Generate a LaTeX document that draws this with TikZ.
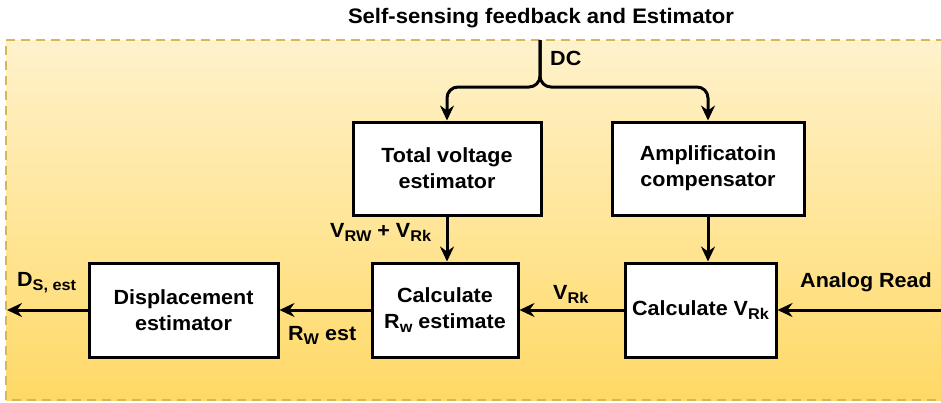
\documentclass[tikz,border=0pt]{standalone}
\usepackage{fontspec}
\setmainfont{Liberation Sans}[FakeStretch=1.05]
\usetikzlibrary{arrows.meta,positioning,calc}

\definecolor{frameline}{HTML}{D6B656}
\definecolor{fadetop}{HTML}{FFF2CC}
\definecolor{fadebottom}{HTML}{FFD966}

% subscript in the diagram font
\newcommand{\lowtxt}[1]{\raisebox{-4.5pt}{\fontsize{15.5}{15.5}\selectfont #1}}

\tikzset{
  blk/.style={draw=black, line width=3pt, fill=white, align=center,
    font=\fontsize{20.5}{26}\selectfont\bfseries, inner sep=0pt},
  lbl/.style={font=\fontsize{20.5}{26}\selectfont\bfseries, inner sep=0pt},
  arr/.style={draw=black, line width=3pt,
    -{Stealth[length=15pt,width=14pt,inset=5pt]}},
}

\begin{document}
\begin{tikzpicture}[x=1pt,y=-1pt]
\useasboundingbox (0,0) rectangle (941,402);
\clip (0,0) rectangle (941,402);

% title
\node[lbl, font=\fontsize{21}{24}\selectfont\bfseries, anchor=base] (title) at (541,23) {Self-sensing feedback and Estimator};

% dashed container with vertical fade
\shade[top color=fadetop, bottom color=fadebottom] (6,40) rectangle (960,400);
\draw[frameline, line width=2.8pt, dash pattern=on 9pt off 6pt] (960,40) -- (6,40) -- (6,400) -- (960,400);

% blocks
\node[blk, minimum width=188pt, minimum height=93pt] (tve) at (447,168.5) {Total voltage\\estimator};
\node[blk, minimum width=192pt, minimum height=93pt] (amp) at (708,168.5) {Amplificatoin\\compensator};
\node[blk, minimum width=146pt, minimum height=94pt] (crw) at (445,310) {Calculate\\R\lowtxt{w} estimate};
\node[blk, minimum width=151pt, minimum height=94pt] (cvr) at (700.5,310) {Calculate V\lowtxt{Rk}};
\node[blk, minimum width=189pt, minimum height=94pt] (dis) at (183.5,310) {Displacement\\estimator};

% free ends of connectors
\coordinate (dctop) at (540,40);
\coordinate (split) at (540,87);
\coordinate (ain) at (945,310);
\coordinate (dout) at (7,310);

% DC split into both upper blocks
\draw[arr, rounded corners=11pt] (dctop) -- (split) -| (tve.north);
\draw[arr, rounded corners=11pt] (dctop) -- (split) -| (amp.north);

% signal chain
\draw[arr] (tve.south) -- (tve.south |- crw.north);
\draw[arr] (amp.south) -- (amp.south |- cvr.north);
\draw[arr] (ain) -- (cvr.east);
\draw[arr] (cvr.west) -- (crw.east);
\draw[arr] (crw.west) -- (dis.east);
\draw[arr] (dis.west) -- (dout);

% connector labels
\node[lbl, anchor=base west] (ldc) at (550,65) {DC};
\node[lbl, anchor=base west] (lsum) at (330,237) {V\lowtxt{RW} + V\lowtxt{Rk}};
\node[lbl, anchor=base west] (lar) at (800,287) {Analog Read};
\node[lbl, anchor=base west] (lvr) at (553,299) {V\lowtxt{Rk}};
\node[lbl, anchor=base west] (lrw) at (288,340) {R\lowtxt{W} est};
\node[lbl, anchor=base west] (lds) at (17,286) {D\lowtxt{S, est}};
\end{tikzpicture}
\end{document}
